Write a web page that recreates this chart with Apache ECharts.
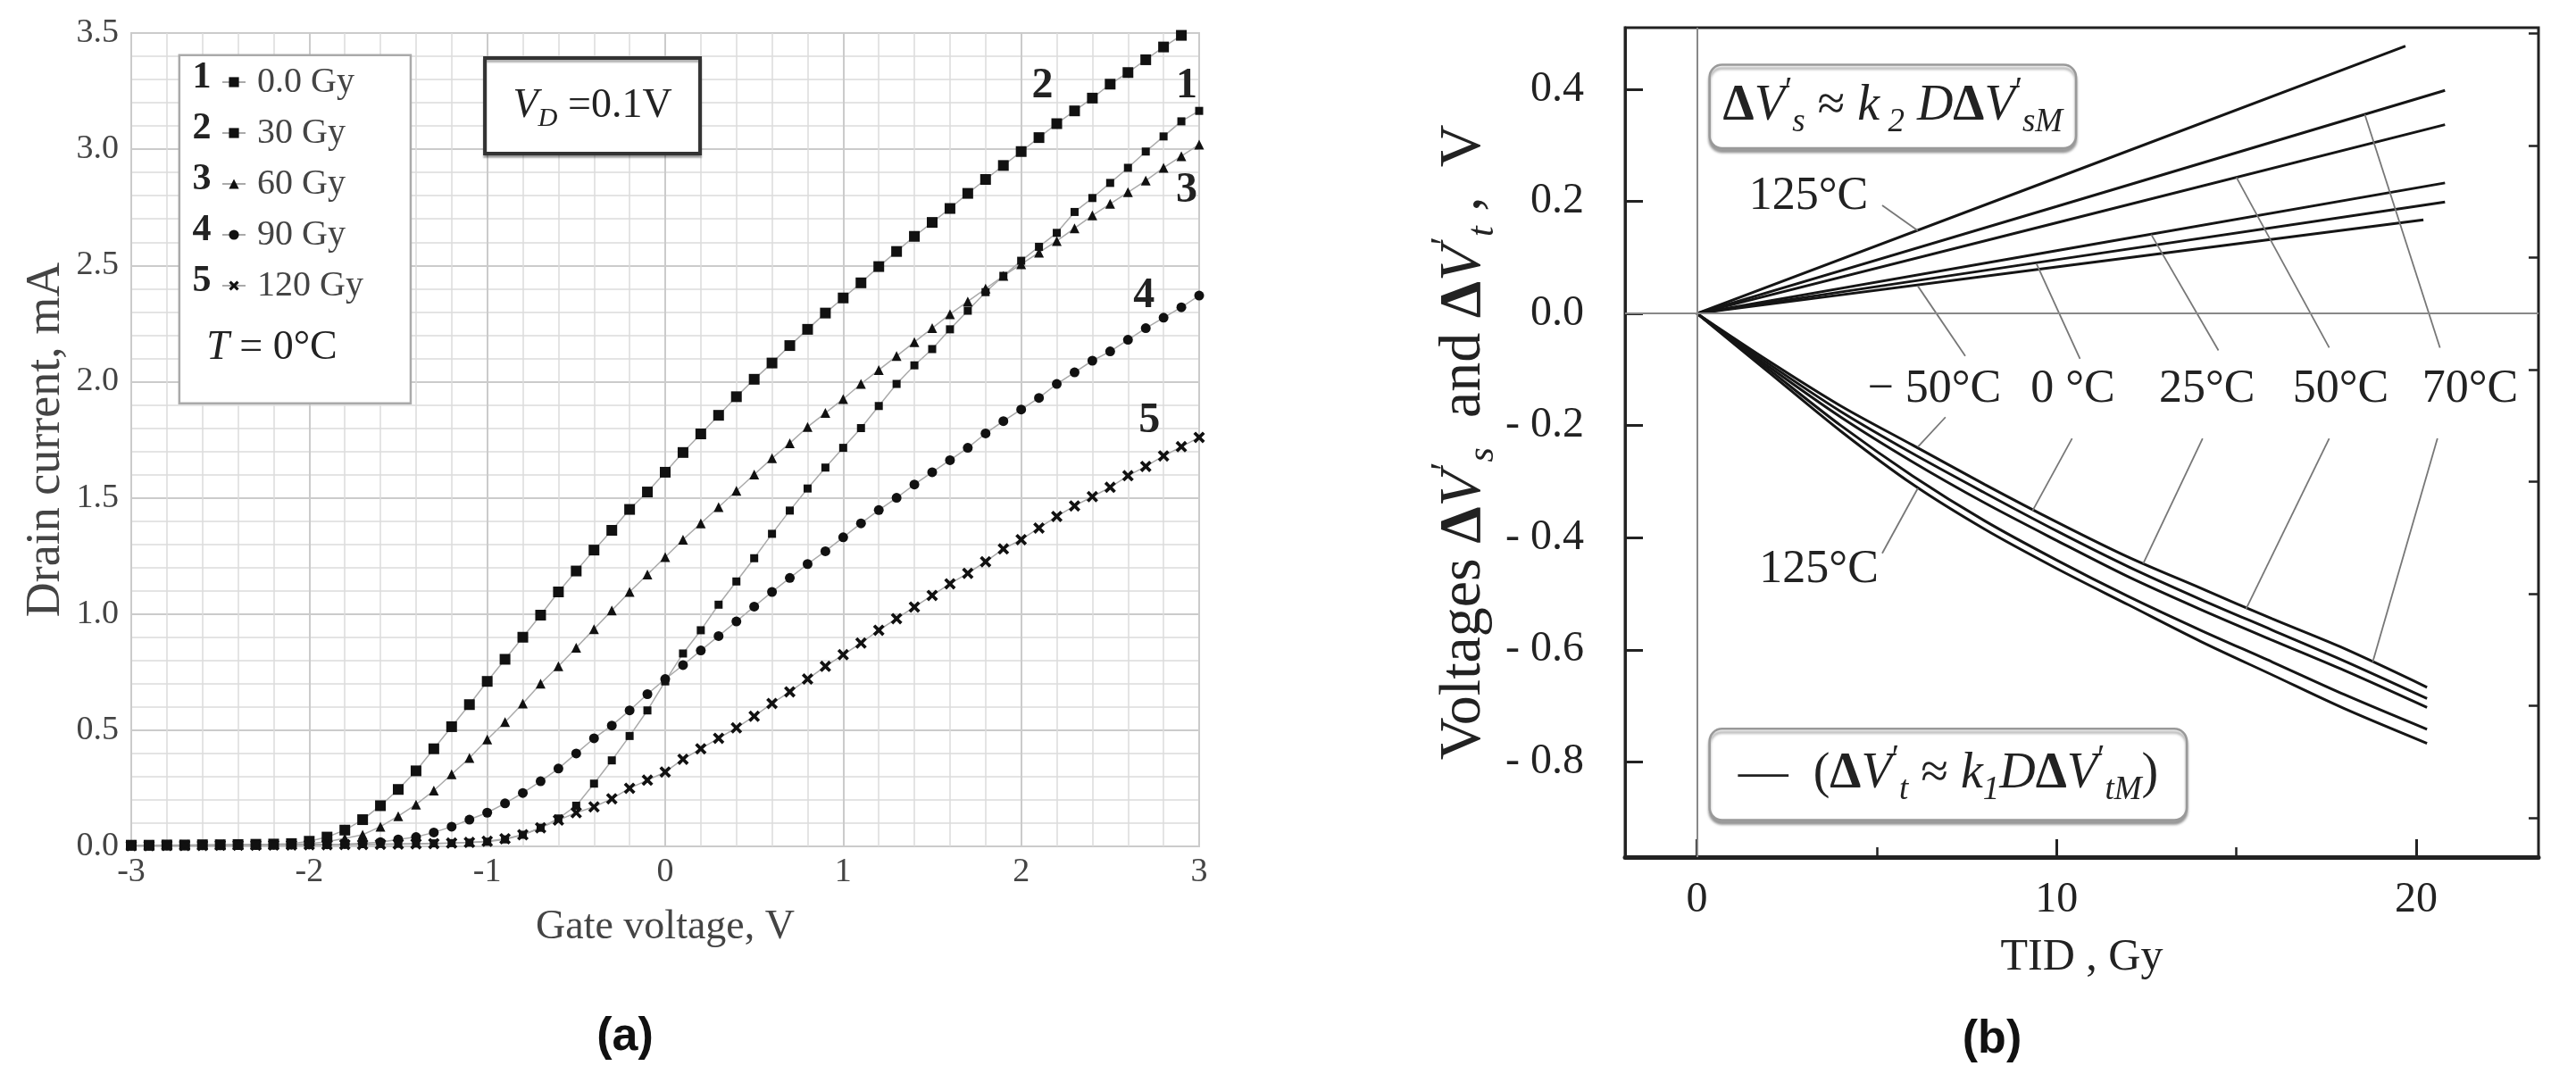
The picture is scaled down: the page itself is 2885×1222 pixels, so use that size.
<!DOCTYPE html>
<html>
<head>
<meta charset="utf-8">
<title>Drain current vs gate voltage / TID voltage shifts</title>
<script src="https://cdn.jsdelivr.net/npm/echarts@6/dist/echarts.min.js"></script>
<style>
  html, body { margin: 0; padding: 0; background: #fff; }
  #chart { width: 2885px; height: 1222px; }
</style>
</head>
<body>
<div id="chart"></div>
<script>
// ---- (a) drain current vs gate voltage, T = 0 C ----
const gateV = [
  -3.0, -2.9, -2.8, -2.7, -2.6, -2.5, -2.4, -2.3, -2.2, -2.1,
  -2.0, -1.9, -1.8, -1.7, -1.6, -1.5, -1.4, -1.3, -1.2, -1.1,
  -1.0, -0.9, -0.8, -0.7, -0.6, -0.5, -0.4, -0.3, -0.2, -0.1,
  0.0, 0.1, 0.2, 0.3, 0.4, 0.5, 0.6, 0.7, 0.8, 0.9,
  1.0, 1.1, 1.2, 1.3, 1.4, 1.5, 1.6, 1.7, 1.8, 1.9,
  2.0, 2.1, 2.2, 2.3, 2.4, 2.5, 2.6, 2.7, 2.8, 2.9,
  3.0
];
const cur0Gy = [
  0.004, 0.004, 0.005, 0.005, 0.005, 0.006, 0.006, 0.007, 0.007, 0.008,
  0.008, 0.009, 0.009, 0.010, 0.010, 0.011, 0.012, 0.013, 0.014, 0.016,
  0.020, 0.030, 0.050, 0.080, 0.120, 0.175, 0.270, 0.370, 0.475, 0.585,
  0.710, 0.830, 0.930, 1.040, 1.140, 1.240, 1.345, 1.445, 1.540, 1.630,
  1.715, 1.800, 1.895, 1.990, 2.070, 2.140, 2.225, 2.305, 2.385, 2.455,
  2.520, 2.580, 2.640, 2.730, 2.790, 2.855, 2.920, 2.990, 3.055, 3.120,
  3.165
];
const cur30Gy = [
  0.005, 0.005, 0.006, 0.006, 0.007, 0.007, 0.008, 0.009, 0.010, 0.012,
  0.022, 0.040, 0.070, 0.115, 0.175, 0.245, 0.325, 0.420, 0.515, 0.610,
  0.710, 0.805, 0.900, 0.995, 1.095, 1.185, 1.275, 1.360, 1.450, 1.525,
  1.610, 1.695, 1.775, 1.855, 1.935, 2.010, 2.080, 2.155, 2.225, 2.295,
  2.360, 2.425, 2.495, 2.560, 2.625, 2.685, 2.745, 2.810, 2.870, 2.930,
  2.990, 3.050, 3.110, 3.165, 3.220, 3.280, 3.330, 3.385, 3.440, 3.490,
  null
];
const cur60Gy = [
  0.004, 0.004, 0.005, 0.005, 0.006, 0.006, 0.007, 0.008, 0.009, 0.010,
  0.012, 0.020, 0.035, 0.050, 0.085, 0.130, 0.180, 0.240, 0.310, 0.380,
  0.460, 0.535, 0.615, 0.700, 0.775, 0.855, 0.935, 1.015, 1.095, 1.170,
  1.245, 1.320, 1.390, 1.460, 1.530, 1.600, 1.670, 1.735, 1.805, 1.865,
  1.925, 1.990, 2.050, 2.110, 2.170, 2.230, 2.290, 2.345, 2.400, 2.455,
  2.505, 2.555, 2.605, 2.660, 2.715, 2.765, 2.815, 2.865, 2.920, 2.970,
  3.020
];
const cur90Gy = [
  0.004, 0.004, 0.004, 0.005, 0.005, 0.005, 0.006, 0.006, 0.007, 0.007,
  0.008, 0.009, 0.010, 0.013, 0.018, 0.030, 0.040, 0.060, 0.085, 0.115,
  0.145, 0.185, 0.230, 0.280, 0.335, 0.400, 0.465, 0.520, 0.585, 0.655,
  0.720, 0.780, 0.843, 0.905, 0.968, 1.032, 1.095, 1.155, 1.215, 1.270,
  1.330, 1.390, 1.447, 1.500, 1.557, 1.610, 1.662, 1.715, 1.777, 1.830,
  1.880, 1.930, 1.990, 2.040, 2.090, 2.130, 2.180, 2.230, 2.275, 2.320,
  2.370
];
const cur120Gy = [
  0.003, 0.003, 0.004, 0.004, 0.004, 0.005, 0.005, 0.005, 0.006, 0.006,
  0.007, 0.007, 0.008, 0.008, 0.009, 0.010, 0.011, 0.012, 0.014, 0.017,
  0.022, 0.033, 0.050, 0.080, 0.113, 0.145, 0.170, 0.205, 0.250, 0.285,
  0.320, 0.375, 0.420, 0.465, 0.510, 0.560, 0.615, 0.665, 0.720, 0.775,
  0.825, 0.875, 0.930, 0.980, 1.030, 1.080, 1.130, 1.175, 1.225, 1.280,
  1.320, 1.370, 1.420, 1.465, 1.505, 1.545, 1.595, 1.635, 1.680, 1.720,
  1.760
];
const doseNames = ['0.0 Gy', '30 Gy', '60 Gy', '90 Gy', '120 Gy'];
// curve number labels [gate V, current, text]
const curveTags = [[2.12, 3.27, '2'], [2.93, 3.27, '1'], [2.93, 2.82, '3'], [2.69, 2.37, '4'], [2.72, 1.83, '5']];

// ---- (b) voltage shifts vs TID ----
// dVs lines (upper group), [TID, V]
const dVs125 = [[0, 0], [10, 0.242], [19.7, 0.477]];
const dVs70 = [[0, 0], [10, 0.191], [20.8, 0.398]];
const dVs50 = [[0, 0], [10, 0.162], [20.8, 0.337]];
const dVs25 = [[0, 0], [10, 0.112], [20.8, 0.233]];
const dVs0 = [[0, 0], [10, 0.096], [20.8, 0.199]];
const dVsM50 = [[0, 0], [10, 0.083], [20.2, 0.167]];
// dVt curves (lower group)
const tidT = [0, 2, 4, 6, 8, 10, 12, 14, 16, 18, 20.3];
const dVt1 = [0, -0.085, -0.165, -0.235, -0.305, -0.372, -0.435, -0.490, -0.545, -0.598, -0.667];
const dVt2 = [0, -0.090, -0.175, -0.250, -0.320, -0.388, -0.452, -0.510, -0.565, -0.620, -0.687];
const dVt3 = [0, -0.095, -0.185, -0.265, -0.338, -0.405, -0.470, -0.528, -0.583, -0.637, -0.703];
const dVt4 = [0, -0.100, -0.200, -0.290, -0.370, -0.440, -0.505, -0.565, -0.622, -0.680, -0.742];
const dVt5 = [0, -0.105, -0.210, -0.305, -0.385, -0.455, -0.520, -0.585, -0.645, -0.705, -0.767];
// temperature labels [TID, V, text]
const tempLabels = [
  [3.1, 0.208, '125°C'],
  [6.6, -0.136, '− 50°C'],
  [10.45, -0.136, '0 °C'],
  [14.18, -0.136, '25°C'],
  [17.9, -0.136, '50°C'],
  [21.5, -0.136, '70°C'],
  [3.39, -0.458, '125°C']
];
// leader lines [x1, y1, x2, y2]
const leaderLines = [
  [5.15, 0.193, 6.14, 0.148],
  [7.46, -0.076, 6.14, 0.049],
  [10.65, -0.081, 9.44, 0.089],
  [14.5, -0.066, 12.63, 0.141],
  [17.58, -0.061, 15.0, 0.243],
  [20.66, -0.061, 18.57, 0.355],
  [6.91, -0.185, 6.14, -0.238],
  [10.43, -0.223, 9.33, -0.352],
  [14.06, -0.223, 12.41, -0.446],
  [17.58, -0.223, 15.27, -0.527],
  [20.59, -0.223, 18.79, -0.622],
  [5.15, -0.428, 6.14, -0.312]
];
const yMajorB = [-0.8, -0.6, -0.4, -0.2, 0, 0.2, 0.4];
const yMinorB = [-0.9, -0.7, -0.5, -0.3, -0.1, 0.1, 0.3, 0.5];
const xMajorB = [0, 10, 20];
const xMinorB = [5, 15];

const SERIF = '"Liberation Serif", "DejaVu Serif", serif';

const xShape = 'path://M2,0 L5,3 L8,0 L10,2 L7,5 L10,8 L8,10 L5,7 L2,10 L0,8 L3,5 L0,2 Z';
const curveDefs = [
  { data: cur0Gy, symbol: 'rect', size: 9 },
  { data: cur30Gy, symbol: 'rect', size: 12 },
  { data: cur60Gy, symbol: 'triangle', size: 11 },
  { data: cur90Gy, symbol: 'circle', size: 11 },
  { data: cur120Gy, symbol: xShape, size: 13 }
];

const series = curveDefs.map((c, k) => ({
  name: doseNames[k],
  type: 'line',
  xAxisIndex: 0,
  yAxisIndex: 0,
  data: gateV.map((v, i) => [v, c.data[i]]),
  symbol: c.symbol,
  symbolSize: c.size,
  showSymbol: true,
  itemStyle: { color: '#111' },
  lineStyle: { color: '#aaa', width: 1.5 },
  z: 3
}));

const upperLines = [dVs125, dVs70, dVs50, dVs25, dVs0, dVsM50];
upperLines.forEach((d, k) => {
  series.push({
    type: 'line',
    xAxisIndex: 1,
    yAxisIndex: 1,
    data: d,
    showSymbol: false,
    lineStyle: { color: '#151515', width: 3 },
    markLine: k === 0 ? {
      silent: true,
      symbol: 'none',
      label: { show: false },
      lineStyle: { color: '#888', width: 2, type: 'solid' },
      data: [{ xAxis: 0 }, { yAxis: 0 }]
    } : undefined
  });
});
[dVt1, dVt2, dVt3, dVt4, dVt5].forEach(vals => {
  series.push({
    type: 'line',
    xAxisIndex: 1,
    yAxisIndex: 1,
    data: tidT.map((t, i) => [t, vals[i]]),
    showSymbol: false,
    smooth: 0.3,
    lineStyle: { color: '#151515', width: 3 }
  });
});

const richB = {
  t: { fontFamily: SERIF, fontSize: 66, color: '#222', lineHeight: 84 },
  d: { fontFamily: SERIF, fontSize: 66, fontWeight: 'bold', color: '#222', lineHeight: 84 },
  v: { fontFamily: SERIF, fontSize: 66, fontStyle: 'italic', color: '#222', lineHeight: 84 },
  p: { fontFamily: SERIF, fontSize: 44, color: '#222', lineHeight: 44, verticalAlign: 'top' },
  s: { fontFamily: SERIF, fontSize: 42, fontStyle: 'italic', color: '#222', lineHeight: 42, verticalAlign: 'bottom' }
};

const option = {
  animation: false,
  backgroundColor: '#fff',
  grid: [
    { left: 147, top: 37, width: 1196, height: 911, show: true, borderColor: '#cdcdcd', borderWidth: 2, outerBoundsMode: 'none' },
    { left: 1820, top: 31, width: 1023, height: 929, show: true, borderColor: '#222', borderWidth: 3, outerBoundsMode: 'none' }
  ],
  legend: {
    orient: 'vertical',
    left: 243,
    top: 64,
    itemWidth: 26,
    itemHeight: 14,
    itemGap: 11,
    z: 10,
    data: doseNames,
    textStyle: { fontFamily: SERIF, fontSize: 40, color: '#444', lineHeight: 46, padding: [0, 0, 0, 8] }
  },
  xAxis: [
    {
      gridIndex: 0, type: 'value', min: -3, max: 3, interval: 1,
      axisLine: { show: false, onZero: false },
      axisTick: { show: false },
      axisLabel: { fontFamily: SERIF, fontSize: 38, color: '#444', margin: 10 },
      splitLine: { show: true, lineStyle: { color: '#cbcbcb', width: 2 } },
      minorTick: { show: false, splitNumber: 5 },
      minorSplitLine: { show: true, lineStyle: { color: '#dcdcdc', width: 1.5 } },
      name: 'Gate voltage, V', nameLocation: 'middle', nameGap: 68,
      nameTextStyle: { fontFamily: SERIF, fontSize: 46, color: '#444' }
    },
    {
      gridIndex: 1, type: 'value', min: -2, max: 23.4, position: 'bottom',
      axisLine: { show: true, onZero: false, lineStyle: { color: '#222', width: 5 } },
      axisTick: { show: true, inside: true, length: 20, customValues: xMajorB, lineStyle: { color: '#222', width: 3 } },
      axisLabel: { customValues: xMajorB, fontFamily: SERIF, fontSize: 48, color: '#222', margin: 24 },
      splitLine: { show: false },
      name: 'TID , Gy', nameLocation: 'middle', nameGap: 88,
      nameTextStyle: { fontFamily: SERIF, fontSize: 50, color: '#222' }
    },
    {
      gridIndex: 1, type: 'value', min: -2, max: 23.4, position: 'bottom',
      axisLine: { show: false, onZero: false },
      axisTick: { show: true, inside: true, length: 11, customValues: xMinorB, lineStyle: { color: '#222', width: 2.5 } },
      axisLabel: { show: false },
      splitLine: { show: false }
    }
  ],
  yAxis: [
    {
      gridIndex: 0, type: 'value', min: 0, max: 3.5, interval: 0.5,
      axisLine: { show: false, onZero: false },
      axisTick: { show: false },
      axisLabel: { formatter: v => v.toFixed(1), fontFamily: SERIF, fontSize: 38, color: '#444', margin: 14 },
      splitLine: { show: true, lineStyle: { color: '#cbcbcb', width: 2 } },
      minorTick: { show: false, splitNumber: 5 },
      minorSplitLine: { show: true, lineStyle: { color: '#dcdcdc', width: 1.5 } },
      name: 'Drain current, mA', nameLocation: 'middle', nameGap: 68, nameRotate: 90,
      nameTextStyle: { fontFamily: SERIF, fontSize: 54, color: '#444' }
    },
    {
      gridIndex: 1, type: 'value', min: -0.97, max: 0.51,
      axisLine: { show: true, onZero: false, lineStyle: { color: '#222', width: 3 } },
      axisTick: { show: true, inside: true, length: 20, customValues: yMajorB, lineStyle: { color: '#222', width: 3 } },
      axisLabel: {
        customValues: yMajorB,
        formatter: v => (v < -1e-9 ? '- ' : '') + Math.abs(v).toFixed(1),
        fontFamily: SERIF, fontSize: 48, color: '#222', margin: 46
      },
      splitLine: { show: false },
      name: '{t|Voltages }{d|Δ}{v|V}{p|′}{s|s}{t|  and }{d|Δ}{v|V}{p|′}{s|t}{t| ,  V}',
      nameLocation: 'middle', nameGap: 132, nameRotate: 90,
      nameTextStyle: { rich: richB }
    },
    {
      gridIndex: 1, type: 'value', min: -0.97, max: 0.51,
      axisLine: { show: false, onZero: false },
      axisTick: { show: true, inside: true, length: 11, customValues: yMinorB, lineStyle: { color: '#222', width: 2.5 } },
      axisLabel: { show: false },
      splitLine: { show: false }
    }
  ],
  series: series
};

const chart = echarts.init(document.getElementById('chart'));
chart.setOption(option);

// annotations placed through the chart's own coordinate systems
const pxA = p => chart.convertToPixel({ xAxisIndex: 0, yAxisIndex: 0 }, p);
const pxB = p => chart.convertToPixel({ xAxisIndex: 1, yAxisIndex: 1 }, p);
function boxOf(px, x0, x1, y0, y1) {
  const a = px([x0, y1]);
  const b = px([x1, y0]);
  return { x: a[0], y: a[1], width: b[0] - a[0], height: b[1] - a[1] };
}
function richOf(size) {
  return {
    t: { fontFamily: SERIF, fontSize: size, fill: '#222', lineHeight: size * 1.3 },
    d: { fontFamily: SERIF, fontSize: size, fontWeight: 'bold', fill: '#222', lineHeight: size * 1.3 },
    v: { fontFamily: SERIF, fontSize: size, fontStyle: 'italic', fill: '#222', lineHeight: size * 1.3 },
    p: { fontFamily: SERIF, fontSize: size * 0.68, fill: '#222', lineHeight: size * 0.68, verticalAlign: 'top' },
    s: { fontFamily: SERIF, fontSize: size * 0.66, fontStyle: 'italic', fill: '#222', lineHeight: size * 0.66, verticalAlign: 'bottom' }
  };
}

const graphics = [];

// legend box of (a)
const legBox = boxOf(pxA, -2.73, -1.43, 1.907, 3.405);
graphics.push({ type: 'rect', z: 3, shape: legBox, style: { fill: '#fff', stroke: '#aaa', lineWidth: 2.5 } });
doseNames.forEach((n, k) => {
  graphics.push({
    type: 'text', z: 6,
    style: { text: String(k + 1), x: 226, y: 87 + 57 * k, align: 'center', verticalAlign: 'middle',
      fontFamily: SERIF, fontSize: 42, fontWeight: 'bold', fill: '#222' }
  });
});
const tPos = pxA([-2.21, 2.144]);
graphics.push({
  type: 'text', z: 6,
  style: { text: '{v|T}{t| = 0°C}', x: tPos[0], y: tPos[1], align: 'center', verticalAlign: 'middle', rich: richOf(46) }
});

// V_D box of (a)
const vdBox = boxOf(pxA, -1.013, 0.196, 2.981, 3.392);
graphics.push({ type: 'rect', z: 3, shape: vdBox,
  style: { fill: '#fff', stroke: '#333', lineWidth: 4, shadowColor: 'rgba(0,0,0,0.3)', shadowOffsetY: 3, shadowBlur: 2 } });
graphics.push({
  type: 'text', z: 6,
  style: { text: '{v|V}{s|D}{t| =0.1V}', x: vdBox.x + vdBox.width / 2, y: vdBox.y + vdBox.height / 2,
    align: 'center', verticalAlign: 'middle', rich: richOf(46) }
});

// curve numbers of (a)
curveTags.forEach(t => {
  const p = pxA([t[0], t[1]]);
  graphics.push({
    type: 'text', z: 6,
    style: { text: t[2], x: p[0], y: p[1], align: 'center', verticalAlign: 'middle',
      fontFamily: SERIF, fontSize: 48, fontWeight: 'bold', fill: '#222' }
  });
});

// formula boxes of (b)
const topBox = boxOf(pxB, 0.35, 10.54, 0.295, 0.444);
const botBox = boxOf(pxB, 0.35, 13.62, -0.904, -0.741);
[topBox, botBox].forEach(b => {
  graphics.push({ type: 'rect', z: 3, shape: Object.assign({ r: 14 }, b),
    style: { fill: '#fff', stroke: '#999', lineWidth: 2.5, shadowColor: 'rgba(0,0,0,0.35)', shadowOffsetY: 4, shadowBlur: 3 } });
});
graphics.push({
  type: 'text', z: 6,
  style: { text: '{d|Δ}{v|V}{p|′}{s|s}{t| ≈ }{v|k}{s| 2}{v| D}{d|Δ}{v|V}{p|′}{s|sM}',
    x: topBox.x + topBox.width / 2, y: topBox.y + topBox.height / 2, align: 'center', verticalAlign: 'middle', rich: richOf(56) }
});
graphics.push({
  type: 'text', z: 6,
  style: { text: '{t|—  (}{d|Δ}{v|V}{p|′}{s|t}{t| ≈ }{v|k}{s|1}{v|D}{d|Δ}{v|V}{p|′}{s|tM}{t|)}',
    x: botBox.x + botBox.width / 2, y: botBox.y + botBox.height / 2, align: 'center', verticalAlign: 'middle', rich: richOf(56) }
});

// leader lines and temperature labels of (b)
leaderLines.forEach(l => {
  const a = pxB([l[0], l[1]]);
  const b = pxB([l[2], l[3]]);
  graphics.push({ type: 'line', z: 4, shape: { x1: a[0], y1: a[1], x2: b[0], y2: b[1] },
    style: { stroke: '#777', lineWidth: 1.8 } });
});
tempLabels.forEach(t => {
  const p = pxB([t[0], t[1]]);
  graphics.push({
    type: 'text', z: 6,
    style: { text: t[2], x: p[0], y: p[1], align: 'center', verticalAlign: 'middle',
      fontFamily: SERIF, fontSize: 52, fill: '#222' }
  });
});

// panel captions
graphics.push({ type: 'text', z: 6, style: { text: '(a)', x: 700, y: 1162, align: 'center', verticalAlign: 'middle',
  fontFamily: '"Liberation Sans", Arial, sans-serif', fontSize: 52, fontWeight: 'bold', fill: '#111' } });
graphics.push({ type: 'text', z: 6, style: { text: '(b)', x: 2231, y: 1165, align: 'center', verticalAlign: 'middle',
  fontFamily: '"Liberation Sans", Arial, sans-serif', fontSize: 52, fontWeight: 'bold', fill: '#111' } });

chart.setOption({ graphic: graphics });
</script>
</body>
</html>
